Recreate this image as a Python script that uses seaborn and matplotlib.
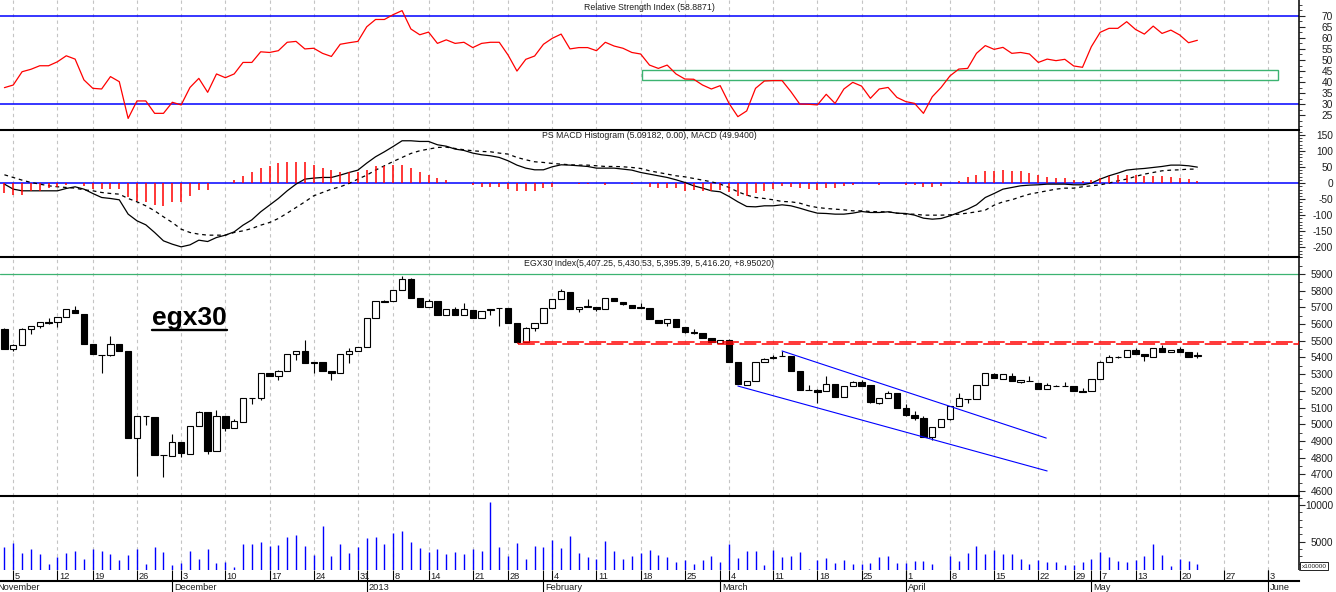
import matplotlib
matplotlib.use('Agg')
import matplotlib.pyplot as plt
import matplotlib.patches as mpatches
from matplotlib.lines import Line2D
from matplotlib.ticker import MultipleLocator
import numpy as np
import seaborn as sns

# EGX30 daily data, Nov 2012 - May 2013, one value per trading day
RSI = [37.5, 38.7, 44.7, 45.8, 47.4, 47.4, 49.2, 51.9, 50.4, 41.0,
       37.2, 36.9, 42.5, 40.2, 23.6, 31.5, 31.5, 25.9, 25.9, 30.9,
       29.7, 37.6, 41.7, 35.4, 43.7, 42.0, 43.7, 48.9, 48.9, 53.7,
       53.4, 54.2, 58.0, 58.4, 55.0, 55.3, 53.0, 51.6, 57.1, 57.8,
       58.4, 65.0, 68.3, 68.3, 70.5, 72.3, 64.0, 61.4, 62.6, 57.5,
       59.1, 57.5, 58.0, 55.6, 57.5, 58.0, 58.0, 52.2, 45.0, 50.3,
       51.8, 57.1, 59.8, 61.7, 55.0, 55.6, 55.6, 54.2, 58.0, 56.3,
       55.3, 53.4, 52.7, 47.7, 46.2, 47.7, 43.7, 41.4, 41.3, 38.7,
       36.9, 38.4, 30.4, 24.4, 27.0, 37.2, 40.5, 40.7, 40.7, 35.7,
       30.1, 30.0, 29.7, 34.5, 30.4, 36.9, 39.9, 38.2, 32.7, 36.9,
       37.6, 33.1, 31.2, 30.4, 25.9, 33.4, 37.6, 42.8, 45.9, 46.2,
       53.0, 56.5, 54.8, 55.7, 53.0, 53.4, 52.7, 48.9, 50.4, 49.7,
       50.3, 47.3, 46.7, 56.0, 62.5, 64.3, 64.3, 67.3, 63.8, 61.7,
       65.3, 62.0, 63.5, 61.3, 57.8, 58.9]

MACD = [-3.1, -18.7, -23.9, -23.9, -23.9, -23.9, -23.9, -16.6, -11.4, -18.7,
        -32.2, -44.7, -47.8, -51.9, -96.5, -117.3, -129.8, -153.7, -179.7, -190.1,
        -198.4, -192.2, -177.6, -181.8, -169.3, -162.0, -151.7, -130.9, -114.3, -89.3,
        -68.6, -47.8, -23.9, -3.1, 12.5, 15.6, 17.7, 17.7, 24.9, 33.2,
        40.5, 62.3, 82.1, 97.6, 114.3, 131.9, 131.9, 129.8, 129.8, 119.5,
        115.0, 106.0, 101.8, 93.5, 88.3, 85.2, 80.0, 69.6, 56.1, 46.7,
        41.5, 41.5, 50.9, 57.1, 56.1, 54.0, 51.9, 46.7, 46.7, 46.7,
        43.6, 40.5, 33.2, 28.0, 22.9, 17.7, 10.4, 2.1, -8.3, -15.6,
        -23.9, -27.0, -41.5, -58.2, -72.7, -73.8, -70.6, -70.6, -67.5, -70.6,
        -77.9, -86.2, -93.5, -94.5, -96.6, -96.6, -93.5, -88.3, -91.4, -91.4,
        -89.3, -93.5, -94.5, -99.7, -109.1, -112.2, -110.1, -101.8, -91.4, -81.0,
        -67.5, -44.7, -32.2, -18.7, -13.5, -8.3, -6.2, -5.2, -3.1, -3.1,
        -3.1, -5.2, -5.2, 0.0, 12.5, 22.9, 31.2, 40.5, 43.6, 45.7,
        48.8, 51.9, 56.1, 56.1, 54.0, 49.9]

SIGNAL = [26.0, 17.7, 9.3, 2.1, -3.1, -8.3, -11.4, -13.5, -15.6, -20.8,
          -23.9, -29.1, -32.2, -34.3, -47.8, -58.2, -70.6, -86.2, -104.9, -122.6,
          -143.3, -153.7, -158.9, -162.0, -162.0, -162.0, -153.7, -148.5, -141.3, -130.9,
          -122.6, -110.1, -93.5, -75.8, -58.2, -39.5, -29.1, -18.7, -11.4, -1.0,
          12.5, 24.9, 40.5, 54.0, 67.5, 80.0, 92.4, 100.8, 106.0, 111.1,
          112.0, 108.0, 103.9, 100.8, 98.7, 97.6, 93.5, 90.4, 80.0, 72.7,
          66.5, 64.4, 61.3, 59.2, 57.1, 56.1, 56.1, 54.0, 51.9, 51.9,
          50.9, 48.8, 45.7, 38.4, 33.2, 28.0, 22.9, 19.7, 14.5, 9.3,
          4.2, -3.1, -13.5, -27.0, -37.4, -44.7, -47.8, -51.9, -57.1, -58.2,
          -62.3, -70.6, -75.8, -78.9, -81.0, -83.1, -86.2, -86.2, -88.3, -89.3,
          -89.3, -93.5, -96.6, -96.6, -99.7, -99.7, -99.7, -98.7, -96.6, -93.5,
          -89.3, -84.1, -68.6, -58.2, -51.9, -42.6, -34.3, -29.1, -23.9, -18.7,
          -15.6, -15.6, -11.4, -8.3, -5.2, 0.0, 7.3, 12.5, 20.8, 28.0,
          33.2, 38.4, 40.5, 41.5, 43.6, 43.6]

HIST = [-32.2, -36.4, -36.4, -23.9, -23.9, -16.6, -11.4, -5.2, -1.0, -8.3,
        -18.7, -18.7, -18.7, -18.7, -44.7, -55.0, -60.2, -67.5, -70.6, -60.2,
        -60.2, -39.5, -20.8, -20.8, 0, 0, 10.4, 22.9, 35.3, 47.8,
        54.0, 61.3, 66.5, 66.5, 64.4, 56.1, 46.7, 40.5, 35.3, 35.3,
        35.3, 41.5, 54.0, 54.0, 56.1, 56.1, 46.7, 35.3, 24.9, 16.6,
        10.4, 0, 0, -6.0, -11.4, -11.4, -11.4, -18.7, -26.0, -26.0,
        -26.0, -16.6, -11.4, 0, 0, -3.0, -3.0, 0, -5.0, 0,
        0, -4.0, 0, -11.4, -16.6, -16.6, -16.6, -23.9, -21.8, -23.9,
        -26.0, -21.8, -29.1, -39.5, -41.5, -31.2, -26.0, -18.7, -10.4, -11.4,
        -15.6, -18.7, -20.8, -15.6, -16.6, -8.3, -5.2, 0, 0, -5.2,
        0, 0, -5.0, -5.0, -13.5, -11.4, -8.3, 0, 7.3, 17.7,
        26.0, 36.4, 36.4, 39.5, 36.4, 36.4, 30.1, 26.0, 19.7, 15.6,
        14.5, 10.4, 7.3, 10.4, 15.6, 22.9, 26.0, 26.0, 26.0, 22.9,
        20.8, 20.8, 17.7, 15.6, 12.5, 5.1]

OPEN = [5570, 5450, 5472, 5570, 5586, 5610, 5610, 5640, 5684, 5660,
        5480, 5414, 5412, 5478, 5438, 4920, 5052, 5046, 4816, 4812,
        4896, 4824, 4988, 5072, 4840, 5052, 4980, 5016, 5160, 5160,
        5304, 5288, 5320, 5418, 5436, 5370, 5370, 5316, 5304, 5418,
        5440, 5464, 5634, 5736, 5736, 5802, 5870, 5754, 5702, 5736,
        5652, 5688, 5654, 5684, 5638, 5688, 5696, 5694, 5604, 5494,
        5574, 5604, 5694, 5748, 5794, 5688, 5700, 5704, 5692, 5754,
        5730, 5714, 5700, 5694, 5622, 5608, 5628, 5580, 5550, 5544,
        5514, 5488, 5502, 5372, 5238, 5260, 5370, 5400, 5408, 5408,
        5318, 5208, 5208, 5198, 5244, 5164, 5228, 5256, 5234, 5130,
        5160, 5186, 5100, 5054, 5040, 4924, 4984, 5032, 5110, 5154,
        5154, 5234, 5298, 5274, 5290, 5254, 5260, 5250, 5214, 5230,
        5230, 5230, 5198, 5198, 5274, 5370, 5404, 5404, 5444, 5418,
        5400, 5454, 5430, 5448, 5430, 5407.25]
HIGH = [5576, 5478, 5576, 5590, 5610, 5636, 5642, 5690, 5708, 5660,
        5480, 5414, 5528, 5482, 5438, 5052, 5052, 5046, 4818, 4944,
        4896, 4992, 5080, 5072, 5084, 5052, 5030, 5160, 5160, 5304,
        5304, 5324, 5418, 5440, 5504, 5370, 5370, 5316, 5418, 5454,
        5464, 5634, 5736, 5744, 5802, 5888, 5876, 5754, 5750, 5736,
        5688, 5704, 5728, 5684, 5680, 5688, 5696, 5694, 5604, 5582,
        5604, 5694, 5748, 5808, 5794, 5700, 5748, 5704, 5754, 5758,
        5734, 5714, 5728, 5698, 5624, 5628, 5628, 5580, 5570, 5548,
        5514, 5506, 5510, 5372, 5260, 5374, 5396, 5414, 5440, 5408,
        5318, 5234, 5212, 5288, 5244, 5228, 5260, 5264, 5234, 5160,
        5198, 5186, 5124, 5078, 5050, 4984, 5032, 5108, 5188, 5154,
        5234, 5304, 5304, 5298, 5304, 5268, 5290, 5250, 5248, 5238,
        5254, 5230, 5218, 5274, 5378, 5414, 5408, 5444, 5454, 5418,
        5454, 5474, 5446, 5460, 5430, 5430.53]
LOW = [5448, 5438, 5472, 5542, 5576, 5598, 5584, 5640, 5664, 5482,
       5418, 5304, 5408, 5440, 4918, 4690, 4996, 4816, 4684, 4812,
       4804, 4824, 4988, 4824, 4840, 4960, 4980, 5016, 5124, 5144,
       5290, 5268, 5320, 5386, 5364, 5304, 5320, 5268, 5304, 5364,
       5440, 5464, 5634, 5730, 5736, 5802, 5754, 5704, 5702, 5654,
       5652, 5654, 5654, 5634, 5638, 5654, 5590, 5608, 5494, 5494,
       5558, 5604, 5694, 5748, 5692, 5670, 5700, 5678, 5692, 5738,
       5714, 5698, 5698, 5628, 5604, 5590, 5580, 5546, 5542, 5514,
       5490, 5486, 5374, 5242, 5238, 5260, 5370, 5388, 5406, 5320,
       5206, 5206, 5128, 5198, 5164, 5164, 5228, 5230, 5130, 5124,
       5160, 5100, 5050, 5026, 4924, 4908, 4984, 5024, 5110, 5128,
       5154, 5234, 5280, 5274, 5260, 5248, 5258, 5214, 5214, 5228,
       5228, 5200, 5196, 5198, 5274, 5370, 5398, 5404, 5418, 5380,
       5400, 5430, 5430, 5434, 5404, 5395.39]
CLOSE = [5452, 5474, 5570, 5586, 5610, 5608, 5640, 5690, 5664, 5482,
         5418, 5412, 5478, 5440, 4918, 5052, 5050, 4816, 4814, 4896,
         4828, 4992, 5072, 4840, 5052, 4980, 5018, 5160, 5158, 5304,
         5290, 5320, 5418, 5440, 5364, 5364, 5320, 5304, 5418, 5440,
         5464, 5634, 5736, 5734, 5802, 5868, 5754, 5704, 5736, 5654,
         5688, 5654, 5688, 5638, 5680, 5686, 5694, 5608, 5494, 5574,
         5604, 5694, 5748, 5798, 5692, 5700, 5708, 5692, 5754, 5738,
         5718, 5698, 5698, 5628, 5608, 5628, 5580, 5550, 5548, 5514,
         5494, 5502, 5374, 5242, 5260, 5370, 5392, 5398, 5406, 5320,
         5206, 5206, 5194, 5244, 5164, 5228, 5256, 5230, 5134, 5160,
         5190, 5100, 5058, 5038, 4924, 4984, 5032, 5108, 5158, 5152,
         5234, 5304, 5280, 5298, 5260, 5268, 5258, 5214, 5238, 5228,
         5228, 5200, 5196, 5274, 5370, 5400, 5400, 5444, 5418, 5408,
         5454, 5430, 5446, 5434, 5404, 5416.20]

VOLUME = [4318, 4864, 3500, 4000, 3318, 1955, 2955, 3500, 3773, 2682,
          4000, 3773, 3318, 2500, 3182, 4000, 1955, 4318, 3636, 1818,
          2136, 3773, 2682, 4000, 2136, 2227, 1591, 4682, 4682, 4955,
          4455, 4545, 5636, 5909, 4409, 3182, 7136, 3045, 4682, 3500,
          4273, 5500, 5636, 4682, 6182, 6500, 4955, 4182, 3636, 4045,
          3318, 3591, 3318, 4000, 3727, 10455, 4273, 3045, 4818, 2636,
          4409, 4273, 5273, 4182, 5773, 3455, 2955, 2636, 5136, 3727,
          2636, 3045, 3455, 3864, 3182, 2909, 2227, 2500, 1955, 2500,
          3045, 2227, 4682, 2773, 3727, 3727, 1818, 3864, 2909, 3045,
          3591, 1318, 2500, 2773, 2091, 2500, 1955, 1955, 2091, 2909,
          3045, 2091, 2091, 2364, 2364, 1955, 0, 3045, 2364, 3455,
          4409, 3318, 3864, 3318, 3318, 2636, 1955, 2500, 2227, 2227,
          1818, 1818, 2227, 2636, 3591, 2909, 2364, 2227, 2500, 3045,
          4682, 3182, 1682, 2636, 2364, 1955]

# weekly grid positions (trading-day index) and the date axis
WEEK_IDX = [1, 6, 10, 15, 20, 25, 30, 35, 40, 44, 48, 53, 57, 62, 67, 72,
            77, 82, 87, 92, 97, 102, 107, 112, 117, 121, 124, 128, 133, 138, 143]
WEEK_DAYS = ['5', '12', '19', '26', '3', '10', '17', '24', '31', '8', '14',
             '21', '28', '4', '11', '18', '25', '4', '11', '18', '25', '1',
             '8', '15', '22', '29', '7', '13', '20', '27', '3']
MONTH_IDX = [-1, 19, 41, 61, 81, 102, 123, 143]
MONTHS = ['November', 'December', '2013', 'February', 'March', 'April', 'May', 'June']

# hand drawn annotations
RSI_ZONE = (72.1, 144.1, 40.8, 45.35)          # x0, x1, y0, y1
RESIST_ZONE = (58.1, 5479, 5491)               # x0, y0, y1
CHANNEL_UP = ([88.0, 117.9], [5439, 4917])
CHANNEL_LO = ([83.0, 118.0], [5229, 4720])

TITLE_RSI = 'Relative Strength Index (58.8871)'
TITLE_MACD = 'PS MACD Histogram (5.09182, 0.00), MACD (49.9400)'
TITLE_PX = 'EGX30 Index(5,407.25, 5,430.53, 5,395.39, 5,416.20, +8.95020)'

sns.set_theme(style='white')
plt.rcParams['font.family'] = ['Liberation Sans', 'DejaVu Sans']
plt.rcParams['axes.unicode_minus'] = False
plt.rcParams['axes.edgecolor'] = 'black'

W, H = 1336, 592
fig = plt.figure(figsize=(W / 100, H / 100), dpi=100)
fig.patch.set_facecolor('white')


def panel(top, bottom):
    return fig.add_axes([0, 1 - bottom / H, 1299 / W, (bottom - top) / H])


ax_rsi = panel(0, 129.5)
ax_macd = panel(129.5, 257)
ax_px = panel(257, 496)
ax_vol = panel(496, 570)
ax_date = panel(570, 581)

x = np.arange(len(CLOSE))
XLIM = (-0.5, 146.5)
LABEL_COLOR = '#1e1e1e'


def style_panel(ax, ylim, major, minor, top=True, title=None, title_px=7):
    ax.set_xlim(*XLIM)
    ax.set_ylim(*ylim)
    ax.set_xticks(WEEK_IDX)
    ax.tick_params(axis='x', length=0, labelbottom=False)
    ax.grid(axis='x', color='#c4c4c4', linestyle=(0, (3, 3)), linewidth=0.8)
    ax.grid(axis='y', visible=False)
    ax.set_axisbelow(True)
    ax.yaxis.tick_right()
    ax.set_yticks(major)
    ax.yaxis.set_minor_locator(MultipleLocator(minor))
    ax.tick_params(axis='y', which='major', direction='out', length=4.3, width=0.8,
                   pad=20.3, labelsize=7.3, labelcolor=LABEL_COLOR, right=True,
                   left=False, labelleft=False, labelright=True)
    ax.tick_params(axis='y', which='minor', direction='out', length=2.2, width=0.6,
                   right=True, left=False)
    for t in ax.yaxis.get_major_ticks():
        t.label2.set_horizontalalignment('right')
    ax.spines['left'].set_visible(False)
    ax.spines['bottom'].set_visible(False)
    ax.spines['top'].set_visible(top)
    ax.spines['top'].set_linewidth(1.5)
    ax.spines['right'].set_linewidth(1.1)
    if title:
        h = ax.get_position().height * H
        ax.text(0.5, 1 - title_px / h, title, transform=ax.transAxes, ha='center',
                va='center', fontsize=6.3, color=LABEL_COLOR)


# RSI panel
style_panel(ax_rsi, (18.6, 77.1), list(range(25, 75, 5)), 2.5, top=False, title=TITLE_RSI)
ax_rsi.axhline(70, color='#0000ff', lw=1.1)
ax_rsi.axhline(30, color='#0000ff', lw=1.1)
sns.lineplot(x=x, y=RSI, ax=ax_rsi, color='#ff0000', linewidth=0.9, legend=False)
x0, x1, y0, y1 = RSI_ZONE
ax_rsi.add_patch(mpatches.Rectangle((x0, y0), x1 - x0, y1 - y0, fill=False,
                                    edgecolor='#3cb371', linewidth=1.0))
ax_rsi.set_ylabel('')

# MACD panel
style_panel(ax_macd, (-230, 167), list(range(-200, 200, 50)), 10, title=TITLE_MACD, title_px=6.5)
ax_macd.axhline(0, color='#0000ff', lw=1.1, zorder=2)
hist = np.array(HIST)
ax_macd.vlines(x[hist != 0], 0, hist[hist != 0], colors='#ff0000', lw=1.1, zorder=3)
sns.lineplot(x=x, y=MACD, ax=ax_macd, color='black', linewidth=0.9, legend=False)
sns.lineplot(x=x, y=SIGNAL, ax=ax_macd, color='black', linewidth=0.9,
             linestyle=(0, (3, 3)), legend=False)
ax_macd.set_ylabel('')

# price panel
style_panel(ax_px, (4570, 6002), list(range(4600, 6000, 100)), 50, title=TITLE_PX)
ax_px.axhline(5900, color='#3cb371', lw=0.9)
o, h_, l_, c = map(np.array, (OPEN, HIGH, LOW, CLOSE))
ax_px.vlines(x, l_, h_, colors='black', lw=0.8, zorder=3)
body_col = np.where(c < o, 'black', 'white')
ax_px.bar(x, np.abs(c - o), bottom=np.minimum(o, c), width=0.72, color=body_col,
          edgecolor='black', linewidth=0.8, zorder=4)
rx, ry0, ry1 = RESIST_ZONE
ax_px.add_patch(mpatches.Rectangle((rx, ry0), 200, ry1 - ry0, fill=False,
                                   edgecolor='#ff0000', linewidth=1.1,
                                   linestyle=(0, (11, 3.5)), zorder=5))
ax_px.plot(*CHANNEL_UP, color='#0000ff', lw=0.8, zorder=5)
ax_px.plot(*CHANNEL_LO, color='#0000ff', lw=0.8, zorder=5)
lbl = ax_px.text(16.7, 5594, 'egx30', fontsize=19, fontweight='bold', ha='left',
                 va='baseline', color='black', zorder=6)

# volume panel
style_panel(ax_vol, (1140, 11230), [5000, 10000], 1000)
vol = np.array(VOLUME)
ax_vol.vlines(x[vol > 0], 0, vol[vol > 0], colors='#0000ff', lw=1.0, zorder=3)
fig.text(1301.5 / W, 1 - 566 / H, 'x100000', fontsize=4.6, ha='left', va='center',
         color=LABEL_COLOR, bbox=dict(boxstyle='square,pad=0.2', fc='white',
                                      ec='black', lw=0.6))

# date strip
ax_date.set_xlim(*XLIM)
ax_date.set_ylim(0, 1)
ax_date.set_xticks([])
ax_date.set_yticks([])
for s in ('left', 'right', 'top'):
    ax_date.spines[s].set_visible(False)
ax_date.spines['bottom'].set_linewidth(1.5)
trans = ax_date.get_xaxis_transform()
ax_date.vlines(WEEK_IDX, 0, 1, transform=trans, colors='black', lw=0.8)
ax_date.vlines(MONTH_IDX, -1, 1, transform=trans, colors='black', lw=0.8, clip_on=False)
for idx, d in zip(WEEK_IDX, WEEK_DAYS):
    ax_date.annotate(d, xy=(idx, 0.45), xycoords=trans, xytext=(1.0, 0),
                     textcoords='offset points', ha='left', va='center',
                     fontsize=6.7, color=LABEL_COLOR)
for idx, m in zip(MONTH_IDX, MONTHS):
    ax_date.annotate(m, xy=(idx, -0.6), xycoords=trans, xytext=(1.4, 0),
                     textcoords='offset points', ha='left', va='center',
                     fontsize=6.7, color=LABEL_COLOR, annotation_clip=False)

# underline for the egx30 label
fig.canvas.draw()
bb = lbl.get_window_extent()
base_y = ax_px.transData.transform((16.7, 5594))[1]
uy = (base_y - 4.5) / H
fig.add_artist(Line2D([bb.x0 / W, bb.x1 / W], [uy, uy], color='black', lw=1.7))

fig.savefig('out.png', dpi=100, facecolor='white')
